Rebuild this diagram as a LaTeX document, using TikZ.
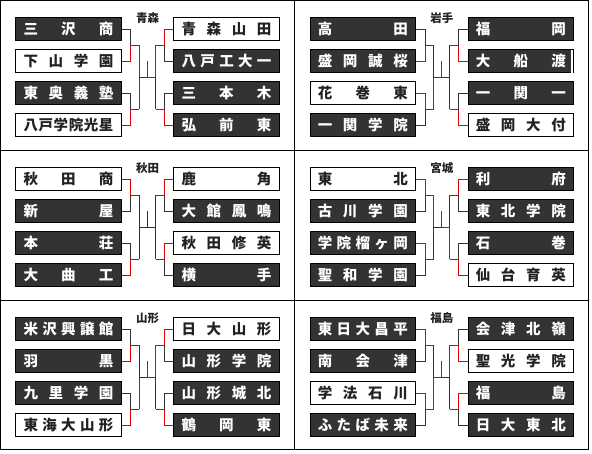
\documentclass[tikz,border=0pt]{standalone}
\usepackage{fontspec}
\newfontfamily\jp{Noto Sans CJK JP}
\definecolor{boxdark}{HTML}{333333}
\definecolor{lnblack}{HTML}{333333}
\definecolor{lnred}{HTML}{E60000}
\definecolor{txtdark}{HTML}{222222}
\tikzset{
  team/.style={minimum width=105.4pt, minimum height=23pt, inner sep=0pt, line width=1pt,
    font=\jp\bfseries\fontsize{14.5}{16}\selectfont, text height=11.9pt, text depth=1pt},
  dk/.style={team, draw=black, fill=boxdark, text=white},
  wt/.style={team, draw=black, fill=white, text=txtdark},
  bk/.style={draw=lnblack, line width=1pt},
  rd/.style={draw=lnred, line width=1pt},
  ttl/.style={font=\jp\bfseries\fontsize{11.5}{12}\selectfont, text=txtdark, inner sep=0pt},
  frame/.style={draw=black, line width=1pt},
  sL1/.style=rd, sL2/.style=rd, sL3/.style=rd, sL4/.style=rd,
  sLh1/.style=rd, sLh2/.style=rd, sLU/.style=rd, sLD/.style=rd, sLC/.style=rd,
  sR1/.style=rd, sR2/.style=rd, sR3/.style=rd, sR4/.style=rd,
  sRh1/.style=rd, sRh2/.style=rd, sRU/.style=rd, sRD/.style=rd, sRC/.style=rd,
  sK/.style=rd,
}
% \tb{name}{x}{y}{style}{text}
\newcommand\tb[5]{\node[#4] (#1) at (#2,#3) {\makebox[89.9pt]{#5}};}
\newcommand\ptitle[2]{\node[ttl] (#1ttl) at (147.5,18.5) {#2};}
\newcommand\bracket[1]{%
  \coordinate (#1a) at (130.7,45.4);
  \coordinate (#1b) at (130.7,109.4);
  \coordinate (#1c) at (139.3,45.4);
  \coordinate (#1d) at (139.3,109.4);
  \coordinate (#1m) at (139.3,77.4);
  \coordinate (#1t) at (147.4,77.4);
  \coordinate (#1k) at (147.4,61);
  \coordinate (#1n) at (155.5,77.4);
  \coordinate (#1e) at (155.5,45.4);
  \coordinate (#1f) at (155.5,109.4);
  \coordinate (#1g) at (164.3,45.4);
  \coordinate (#1h) at (164.3,109.4);
  \draw[sL1] (#1L1.east) -| (#1a);
  \draw[sL2] (#1L2.east) -| (#1a);
  \draw[sL3] (#1L3.east) -| (#1b);
  \draw[sL4] (#1L4.east) -| (#1b);
  \draw[sLh1] (#1a) -- (#1c);
  \draw[sLh2] (#1b) -- (#1d);
  \draw[sLU] (#1c) -- (#1m);
  \draw[sLD] (#1d) -- (#1m);
  \draw[sLC] (#1m) -- (#1t);
  \draw[sRC] (#1n) -- (#1t);
  \draw[sK] (#1k) -- (#1t);
  \draw[sRU] (#1e) -- (#1n);
  \draw[sRD] (#1f) -- (#1n);
  \draw[sRh1] (#1g) -- (#1e);
  \draw[sRh2] (#1h) -- (#1f);
  \draw[sR1] (#1R1.west) -| (#1g);
  \draw[sR2] (#1R2.west) -| (#1g);
  \draw[sR3] (#1R3.west) -| (#1h);
  \draw[sR4] (#1R4.west) -| (#1h);
}
\begin{document}
\begin{tikzpicture}[x=1pt,y=-1pt]
\path[use as bounding box] (0,0) rectangle (592,453);
\fill[white] (0,0) rectangle (592,453);
% frame
\draw[frame] (0.5,0.5) rectangle (588.6,449.3);
\draw[frame] (294.5,0.5) -- (294.5,449.3);
\draw[frame] (0.5,150.3) -- (588.6,150.3);
\draw[frame] (0.5,300.5) -- (588.6,300.5);

% Aomori
\begin{scope}[shift={(0,0)}, sL1/.style=bk, sL3/.style=bk, sLC/.style=bk,
  sR2/.style=bk, sR3/.style=bk, sRD/.style=bk]
\ptitle{A}{青森}
\tb{AL1}{68.5}{29.4}{dk}{三\hfill 沢\hfill 商}
\tb{AL2}{68.5}{61.4}{wt}{下\hfill 山\hfill 学\hfill 園}
\tb{AL3}{68.5}{93.4}{dk}{東\hfill 奥\hfill 義\hfill 塾}
\tb{AL4}{68.5}{125.4}{wt}{八\hfill 戸\hfill 学\hfill 院\hfill 光\hfill 星}
\tb{AR1}{226.5}{29.4}{wt}{青\hfill 森\hfill 山\hfill 田}
\tb{AR2}{226.5}{61.4}{dk}{八\hfill 戸\hfill 工\hfill 大\hfill 一}
\tb{AR3}{226.5}{93.4}{dk}{三\hfill 本\hfill 木}
\tb{AR4}{226.5}{125.4}{dk}{弘\hfill 前\hfill 東}
\bracket{A}
\end{scope}

% Iwate
\begin{scope}[shift={(294.3,0)}, sL1/.style=bk, sL4/.style=bk, sLU/.style=bk,
  sR1/.style=bk, sR3/.style=bk, sRU/.style=bk, sRD/.style=bk, sRC/.style=bk]
\ptitle{B}{岩手}
\tb{BL1}{68.5}{29.4}{dk}{高\hfill 田}
\tb{BL2}{68.5}{61.4}{dk}{盛\hfill 岡\hfill 誠\hfill 桜}
\tb{BL3}{68.5}{93.4}{wt}{花\hfill 巻\hfill 東}
\tb{BL4}{68.5}{125.4}{dk}{一\hfill 関\hfill 学\hfill 院}
\tb{BR1}{226.5}{29.4}{dk}{福\hfill 岡}
\tb{BR2}{226.5}{61.4}{dk}{大\hfill 船\hfill 渡}
\tb{BR3}{226.5}{93.4}{dk}{一\hfill 関\hfill 一}
\tb{BR4}{226.5}{125.4}{wt}{盛\hfill 岡\hfill 大\hfill 付}
\fill[white] ([xshift=-3.5pt,yshift=-0.5pt]BR2.north east) rectangle ([xshift=-0.6pt,yshift=0.5pt]BR2.south east);
\bracket{B}
\end{scope}

% Akita
\begin{scope}[shift={(0,150)}, sL2/.style=bk, sL3/.style=bk, sLU/.style=bk, sLD/.style=bk, sLC/.style=bk,
  sK/.style=bk, sRC/.style=bk, sR2/.style=bk, sR4/.style=bk, sRU/.style=bk, sRD/.style=bk]
\ptitle{C}{秋田}
\tb{CL1}{68.5}{29.4}{wt}{秋\hfill 田\hfill 商}
\tb{CL2}{68.5}{61.4}{dk}{新\hfill 屋}
\tb{CL3}{68.5}{93.4}{dk}{本\hfill 荘}
\tb{CL4}{68.5}{125.4}{dk}{大\hfill 曲\hfill 工}
\tb{CR1}{226.5}{29.4}{wt}{鹿\hfill 角}
\tb{CR2}{226.5}{61.4}{dk}{大\hfill 館\hfill 鳳\hfill 鳴}
\tb{CR3}{226.5}{93.4}{wt}{秋\hfill 田\hfill 修\hfill 英}
\tb{CR4}{226.5}{125.4}{dk}{横\hfill 手}
\bracket{C}
\end{scope}

% Miyagi
\begin{scope}[shift={(294.3,150)}, sL2/.style=bk, sL4/.style=bk, sLD/.style=bk, sLC/.style=bk,
  sR2/.style=bk, sR3/.style=bk, sRU/.style=bk]
\ptitle{D}{宮城}
\tb{DL1}{68.5}{29.4}{wt}{東\hfill 北}
\tb{DL2}{68.5}{61.4}{dk}{古\hfill 川\hfill 学\hfill 園}
\tb{DL3}{68.5}{93.4}{dk}{学\hfill 院\hfill 榴\hfill ヶ\hfill 岡}
\tb{DL4}{68.5}{125.4}{dk}{聖\hfill 和\hfill 学\hfill 園}
\tb{DR1}{226.5}{29.4}{dk}{利\hfill 府}
\tb{DR2}{226.5}{61.4}{dk}{東\hfill 北\hfill 学\hfill 院}
\tb{DR3}{226.5}{93.4}{dk}{石\hfill 巻}
\tb{DR4}{226.5}{125.4}{wt}{仙\hfill 台\hfill 育\hfill 英}
\bracket{D}
\end{scope}

% Yamagata
\begin{scope}[shift={(0,300)}, sL1/.style=bk, sL3/.style=bk, sLU/.style=bk, sLC/.style=bk,
  sR2/.style=bk, sR3/.style=bk, sRD/.style=bk]
\ptitle{E}{山形}
\tb{EL1}{68.5}{29.4}{dk}{米\hfill 沢\hfill 興\hfill 譲\hfill 館}
\tb{EL2}{68.5}{61.4}{dk}{羽\hfill 黒}
\tb{EL3}{68.5}{93.4}{dk}{九\hfill 里\hfill 学\hfill 園}
\tb{EL4}{68.5}{125.4}{wt}{東\hfill 海\hfill 大\hfill 山\hfill 形}
\tb{ER1}{226.5}{29.4}{wt}{日\hfill 大\hfill 山\hfill 形}
\tb{ER2}{226.5}{61.4}{dk}{山\hfill 形\hfill 学\hfill 院}
\tb{ER3}{226.5}{93.4}{dk}{山\hfill 形\hfill 城\hfill 北}
\tb{ER4}{226.5}{125.4}{dk}{鶴\hfill 岡\hfill 東}
\bracket{E}
\end{scope}

% Fukushima
\begin{scope}[shift={(294.3,300)}, sL2/.style=bk, sL4/.style=bk, sLU/.style=bk, sRC/.style=bk,
  sR1/.style=bk, sR4/.style=bk, sRD/.style=bk]
\ptitle{F}{福島}
\tb{FL1}{68.5}{29.4}{dk}{東\hfill 日\hfill 大\hfill 昌\hfill 平}
\tb{FL2}{68.5}{61.4}{dk}{南\hfill 会\hfill 津}
\tb{FL3}{68.5}{93.4}{wt}{学\hfill 法\hfill 石\hfill 川}
\tb{FL4}{68.5}{125.4}{dk}{ふ\hfill た\hfill ば\hfill 未\hfill 来}
\tb{FR1}{226.5}{29.4}{dk}{会\hfill 津\hfill 北\hfill 嶺}
\tb{FR2}{226.5}{61.4}{wt}{聖\hfill 光\hfill 学\hfill 院}
\tb{FR3}{226.5}{93.4}{dk}{福\hfill 島}
\tb{FR4}{226.5}{125.4}{dk}{日\hfill 大\hfill 東\hfill 北}
\bracket{F}
\end{scope}
\end{tikzpicture}
\end{document}
